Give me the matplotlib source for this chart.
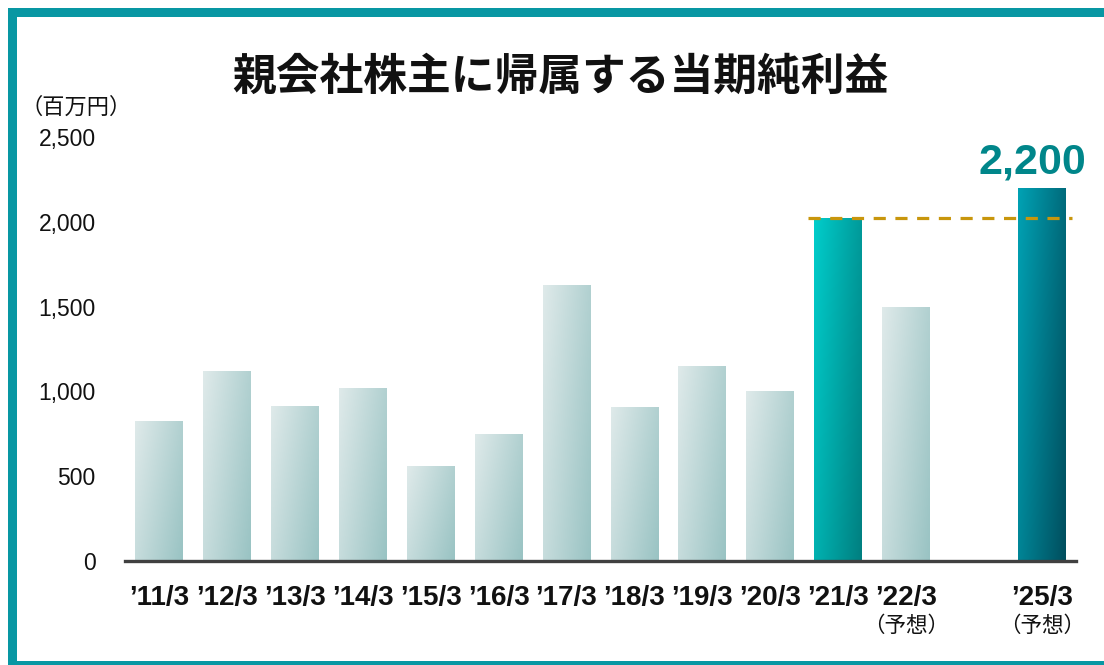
import numpy as np
import matplotlib
matplotlib.use("Agg")
import matplotlib.pyplot as plt
from matplotlib.patches import Rectangle
from matplotlib.colors import LinearSegmentedColormap
import matplotlib.transforms as mtrans

plt.rcParams['font.family'] = ['Liberation Sans', 'Noto Sans CJK JP', 'DejaVu Sans']

# data
labels = ["’11/3", "’12/3", "’13/3", "’14/3", "’15/3", "’16/3", "’17/3",
          "’18/3", "’19/3", "’20/3", "’21/3", "’22/3", "’25/3"]
values = [825, 1120, 915, 1020, 560, 750, 1630, 910, 1150, 1005, 2025, 1500, 2200]
kinds = ["past"] * 10 + ["record", "past", "plan"]
forecast = ["’22/3", "’25/3"]
yticks = [0, 500, 1000, 1500, 2000, 2500]

title = "親会社株主に帰属する当期純利益"
unit = "（百万円）"
teal = "#0897a3"

# '25/3 sits one slot further right (gap for '23/3, '24/3)
xpos = np.array(list(range(11 + 1)) + [13])

gradients = {
    "past": ("#dfeaea", "#99c3c3"),
    "record": ("#00cdcb", "#007f80"),
    "plan": ("#00a2b4", "#004e5e"),
}


def fill_gradient(ax, bar, c0, c1):
    x0, y0 = bar.get_x(), bar.get_y()
    w, h = bar.get_width(), bar.get_height()
    u = np.linspace(0, 1, 64)[None, :]
    v = np.linspace(0, 1, 128)[:, None]
    t = 0.65 * u + 0.35 * v  # v=0 is top row
    cmap = LinearSegmentedColormap.from_list("g", [c0, c1])
    im = ax.imshow(t, cmap=cmap, vmin=0, vmax=1, aspect="auto",
                   extent=(x0, x0 + w, y0, y0 + h), origin="upper",
                   interpolation="bilinear", zorder=2)
    im.set_clip_path(bar)


W, H = 1104, 665
fig = plt.figure(figsize=(W / 100, H / 100), dpi=100)
ax = fig.add_axes([125 / W, 1 - 561 / H, (1076 - 125) / W, (561 - 137) / H])

bars = ax.bar(xpos, values, width=0.705, color="none", edgecolor="none", zorder=2)
for b, k in zip(bars, kinds):
    fill_gradient(ax, b, *gradients[k])

ax.set_xlim(-0.5, 13.5)
ax.set_ylim(0, 2500)

# dashed reference line at the '21/3 level
i_rec = kinds.index("record")
ln = ax.hlines(values[i_rec], xpos[i_rec] - 0.44, xpos[-1] + 0.44,
               colors="#c8960c", linewidth=2.3, zorder=3)
ln.set_dashes([(0, (3.8, 3.0))])

ax.annotate(f"{values[-1]:,}", (xpos[-1], values[-1]), xytext=(-7, 4),
            textcoords="offset points", ha="center", va="bottom",
            fontsize=31, fontweight="bold", color="#00868a", annotation_clip=False)

ax.set_yticks(yticks)
ax.set_yticklabels([f"{v:,}" for v in yticks], fontsize=16.5, color="#111111")
ax.tick_params(axis="y", length=0, pad=21)
ax.set_xticks(xpos)
ax.set_xticklabels(labels, fontsize=20, fontweight="bold", color="#111111")
ax.tick_params(axis="x", length=0, pad=17)

for s in ["top", "right", "left"]:
    ax.spines[s].set_visible(False)
ax.spines["bottom"].set_color("#404040")
ax.spines["bottom"].set_linewidth(2.4)
ax.spines["bottom"].set_zorder(4)

trans = mtrans.blended_transform_factory(ax.transData, fig.transFigure)
for lab in forecast:
    ax.text(xpos[labels.index(lab)], 1 - 626 / H, "（予想）", transform=trans,
            ha="center", va="center", fontsize=15.5, color="#111111",
            family=["Noto Sans CJK JP"])

fig.text(560 / W, 1 - 77 / H, title, ha="center", va="center",
         fontsize=31.5, fontweight="bold", family=["Noto Sans CJK JP"], color="#111111")
fig.text(20 / W, 1 - 107 / H, unit, ha="left", va="center",
         fontsize=16, family=["Noto Sans CJK JP"], color="#111111")

# teal frame (runs off the right edge, only a sliver shows at the bottom)
for x0, y0, x1, y1 in [(8, 8, W, 17), (8, 8, 17, H), (8, 661, W, H)]:
    fig.add_artist(Rectangle((x0 / W, 1 - y1 / H), (x1 - x0) / W, (y1 - y0) / H,
                             transform=fig.transFigure, facecolor=teal,
                             edgecolor="none"))

fig.savefig("out.png", dpi=100)
